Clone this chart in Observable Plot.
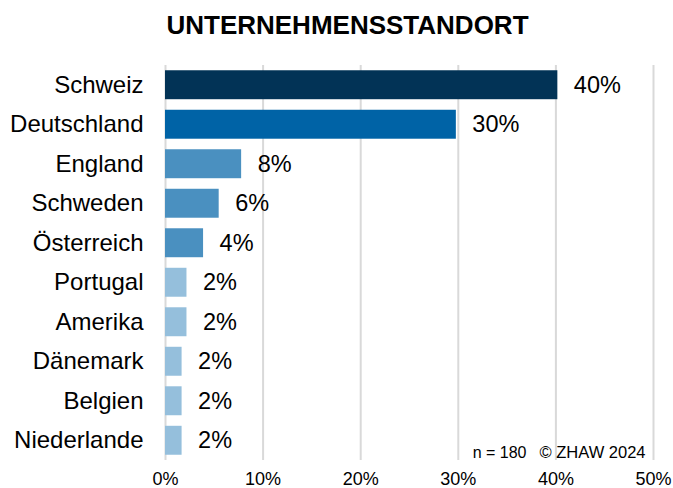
<!DOCTYPE html>
<html>
<head>
<meta charset="utf-8">
<script src="https://cdn.jsdelivr.net/npm/d3@7"></script>
<script src="https://cdn.jsdelivr.net/npm/@observablehq/plot@0.6"></script>
<style>
  html, body { margin: 0; padding: 0; background: #fff; }
  #wrap { position: relative; width: 673px; height: 488px; font-family: "Liberation Sans", Arial, sans-serif; }
  #title { position: absolute; left: 0; top: 10px; width: 695px; text-align: center; font-weight: bold; font-size: 26px; color: #000; }
</style>
</head>
<body>
<div id="wrap">
  <div id="chart"></div>
  <div id="title">UNTERNEHMENSSTANDORT</div>
</div>
<script>
const countries = ["Schweiz", "Deutschland", "England", "Schweden", "Österreich", "Portugal", "Amerika", "Dänemark", "Belgien", "Niederlande"];
const shares = [40.2, 29.8, 7.8, 5.5, 3.9, 2.2, 2.2, 1.7, 1.7, 1.7];
const shareLabels = ["40%", "30%", "8%", "6%", "4%", "2%", "2%", "2%", "2%", "2%"];
const barColors = ["#023356", "#0063A6", "#4A90C0", "#4A90C0", "#4A90C0", "#95BFDC", "#95BFDC", "#95BFDC", "#95BFDC", "#95BFDC"];
const xTicks = [0, 10, 20, 30, 40, 50];
const sampleNote = "n = 180";
const copyrightNote = "© ZHAW 2024";

const data = countries.map((c, i) => ({country: c, share: shares[i], label: shareLabels[i], color: barColors[i]}));

const chart = Plot.plot({
  width: 673,
  height: 488,
  marginTop: 65,
  marginBottom: 28,
  marginLeft: 165,
  marginRight: 20,
  style: {fontFamily: "'Liberation Sans', Arial, sans-serif", color: "#000", background: "#fff"},
  x: {domain: [0, 50], ticks: xTicks},
  y: {domain: countries, paddingInner: 0.267, paddingOuter: 0.133, round: false},
  marks: [
    Plot.gridX(xTicks, {stroke: "#d9d9d9", strokeOpacity: 1, strokeWidth: 2}),
    Plot.barX(data, {y: "country", x: "share", fill: "color"}),
    Plot.text(data, {y: "country", x: "share", text: "label", textAnchor: "start", dx: 16, fontSize: 23.5, fill: "#000"}),
    Plot.axisY({tickSize: 0, tickPadding: 22, fontSize: 24, label: null}),
    Plot.axisX(xTicks, {tickSize: 0, tickPadding: 12, fontSize: 18, label: null, tickFormat: d => d + "%"}),
    Plot.text([sampleNote], {frameAnchor: "bottom-right", dx: -127, dy: -3, fontSize: 16, textAnchor: "end", lineAnchor: "bottom", fill: "#000"}),
    Plot.text([copyrightNote], {frameAnchor: "bottom-right", dx: -8, dy: -3, fontSize: 16.5, textAnchor: "end", lineAnchor: "bottom", fill: "#000"})
  ]
});
document.getElementById("chart").appendChild(chart);
</script>
</body>
</html>
